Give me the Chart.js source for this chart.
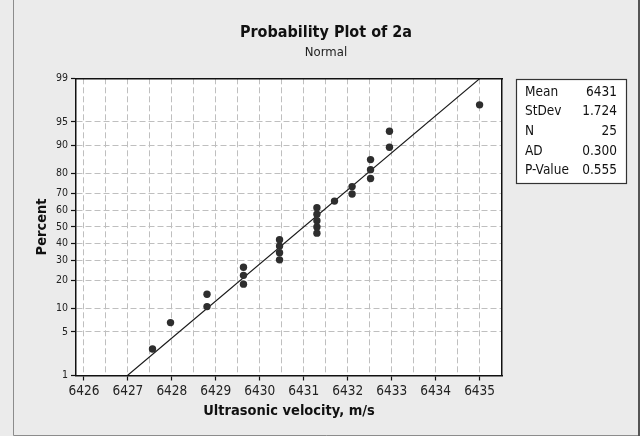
<!DOCTYPE html>
<html>
<head>
<meta charset="utf-8">
<script src="https://cdn.jsdelivr.net/npm/chart.js@4"></script>
<style>
html,body{margin:0;padding:0;background:#ebebeb;}
canvas{display:block;}
</style>
</head>
<body>
<canvas id="c" width="640" height="436"></canvas>
<script>
// ---- data ----
const velocity = [6427.56, 6427.97, 6428.80, 6428.80, 6429.63, 6429.63, 6429.63,
  6430.45, 6430.45, 6430.45, 6430.45, 6431.30, 6431.30, 6431.30, 6431.30, 6431.30,
  6431.70, 6432.10, 6432.10, 6432.52, 6432.52, 6432.52, 6432.95, 6432.95, 6435.00];
const percent = [2.8, 6.7, 10.6, 14.6, 18.5, 22.4, 26.4, 30.3, 34.3, 38.2, 42.1, 46.1,
  50.0, 53.9, 57.9, 61.8, 65.7, 69.7, 73.6, 77.6, 81.5, 85.4, 89.4, 93.3, 97.2];
const xTickValues = [6426, 6427, 6428, 6429, 6430, 6431, 6432, 6433, 6434, 6435];
const yTickPercents = [1, 5, 10, 20, 30, 40, 50, 60, 70, 80, 90, 95, 99];
const statLabels = ['Mean', 'StDev', 'N', 'AD', 'P-Value'];
const statValues = ['6431', '1.724', '25', '0.300', '0.555'];
const fitMean = 6431;
const fitStDev = 1.724;

const FONT = "'DejaVu Sans Condensed', 'Liberation Sans', Arial, sans-serif";

// inverse standard normal CDF (probability-scale transform)
function probit(p){
  const a=[-3.969683028665376e+01,2.209460984245205e+02,-2.759285104469687e+02,1.383577518672690e+02,-3.066479806614716e+01,2.506628277459239e+00];
  const b=[-5.447609879822406e+01,1.615858368580409e+02,-1.556989798598866e+02,6.680131188771972e+01,-1.328068155288572e+01];
  const c=[-7.784894002430293e-03,-3.223964580411365e-01,-2.400758277161838e+00,-2.549732539343734e+00,4.374664141464968e+00,2.938163982698783e+00];
  const d=[7.784695709041462e-03,3.224671290700398e-01,2.445134137142996e+00,3.754408661907416e+00];
  const pl=0.02425, ph=1-pl; let q,r;
  if(p<pl){q=Math.sqrt(-2*Math.log(p));return (((((c[0]*q+c[1])*q+c[2])*q+c[3])*q+c[4])*q+c[5])/((((d[0]*q+d[1])*q+d[2])*q+d[3])*q+1);}
  if(p<=ph){q=p-0.5;r=q*q;return (((((a[0]*r+a[1])*r+a[2])*r+a[3])*r+a[4])*r+a[5])*q/(((((b[0]*r+b[1])*r+b[2])*r+b[3])*r+b[4])*r+1);}
  q=Math.sqrt(-2*Math.log(1-p));return -(((((c[0]*q+c[1])*q+c[2])*q+c[3])*q+c[4])*q+c[5])/((((d[0]*q+d[1])*q+d[2])*q+d[3])*q+1);
}

const zMin = probit(yTickPercents[0]/100);
const zMax = probit(yTickPercents[yTickPercents.length-1]/100);

const points = velocity.map((v,i)=>({x:v, y:probit(percent[i]/100)}));
const fitLine = [zMin, zMax].map(z=>({x: fitMean + fitStDev*z, y: z}));

// x grid every half unit between labelled ticks
const xGrid = [];
xTickValues.forEach((v,i)=>{ xGrid.push(v); if(i<xTickValues.length-1) xGrid.push(v+0.5); });

const frame = {
  id:'frame',
  beforeDraw(chart){
    const {ctx, chartArea:a} = chart;
    ctx.save();
    ctx.fillStyle='#ebebeb'; ctx.fillRect(0,0,chart.width,chart.height);
    ctx.fillStyle='#ffffff'; ctx.fillRect(a.left,a.top,a.right-a.left,a.bottom-a.top);
    ctx.restore();
  },
  afterDraw(chart){
    const ctx = chart.ctx;
    ctx.save();
    // outer frame
    ctx.strokeStyle='#8c8c8c'; ctx.lineWidth=1;
    ctx.beginPath(); ctx.moveTo(13.5,0); ctx.lineTo(13.5,435.5); ctx.lineTo(640,435.5); ctx.stroke();
    ctx.strokeStyle='#555'; ctx.lineWidth=2;
    ctx.beginPath(); ctx.moveTo(639,0); ctx.lineTo(639,436); ctx.stroke();
    // stats box
    ctx.fillStyle='#ffffff'; ctx.fillRect(516,79,111,104);
    ctx.strokeStyle='#333'; ctx.lineWidth=1.2;
    ctx.strokeRect(516.5,79.5,110,104);
    ctx.fillStyle='#111';
    ctx.font = "13.5px " + FONT;
    ctx.textBaseline='middle';
    statLabels.forEach((t,i)=>{
      const y = 92 + i*19.7;
      ctx.textAlign='left'; ctx.fillText(t,525,y);
      ctx.textAlign='right'; ctx.fillText(statValues[i],617,y);
    });
    ctx.restore();
  }
};

new Chart(document.getElementById('c'), {
  type:'scatter',
  data:{datasets:[
    {type:'scatter', label:'2a', data:points, backgroundColor:'#2e2e2e', borderWidth:0, pointRadius:3.7, order:1},
    {type:'line', label:'Fit', data:fitLine, borderColor:'#1a1a1a', borderWidth:1.1, pointRadius:0, fill:false, order:2}
  ]},
  options:{
    responsive:false, animation:false,
    layout:{padding:{left:12,right:0,top:0,bottom:0}},
    plugins:{
      legend:{display:false}, tooltip:{enabled:false},
      title:{display:true, text:'Probability Plot of 2a', color:'#111',
        font:{family:FONT, size:16, weight:'bold', lineHeight:1.2}, padding:{top:22.8, bottom:3}},
      subtitle:{display:true, text:'Normal', color:'#222',
        font:{family:FONT, size:13, lineHeight:1.2}, padding:{top:0, bottom:0}}
    },
    scales:{
      x:{type:'linear', position:'bottom', min:6425.82, max:6435.51,
        afterBuildTicks(s){ s.ticks = xGrid.map(v=>({value:v})); },
        afterFit(s){ s.height = 60.5; },
        ticks:{autoSkip:false, maxRotation:0, padding:3, color:'#222',
          font:{family:FONT, size:13.5},
          callback:(v)=> Number.isInteger(v) ? String(v) : ''},
        grid:{color:'#bfbfbf', lineWidth:1, tickLength:5, tickWidth:1.2,
          tickColor:(ctx)=> (ctx.tick && Number.isInteger(ctx.tick.value)) ? '#111' : 'rgba(0,0,0,0)'},
        border:{display:true, color:'#111', width:1.5, dash:[6,3]},
        title:{display:true, text:'Ultrasonic velocity, m/s', color:'#111',
          font:{family:FONT, size:14.5, weight:'bold', lineHeight:1.2}, padding:{top:0,bottom:16}}
      },
      y:{type:'linear', position:'left', min:zMin, max:zMax,
        afterBuildTicks(s){ s.ticks = yTickPercents.map(p=>({value:probit(p/100)})); },
        afterFit(s){ s.width = 64; },
        ticks:{autoSkip:false, padding:3, color:'#222', font:{family:FONT, size:10.5},
          callback:(v,i)=> String(yTickPercents[i])},
        grid:{color:'#bfbfbf', lineWidth:1, tickLength:5, tickWidth:1.2, tickColor:'#111'},
        border:{display:true, color:'#111', width:1.5, dash:[6,3]},
        title:{display:true, text:'Percent', color:'#111',
          font:{family:FONT, size:14.5, weight:'bold', lineHeight:1.2}, padding:{top:21.5,bottom:0}}
      },
      x2:{type:'linear', position:'top', display:true,
        afterFit(s){ s.height = 17.7; },
        ticks:{display:false}, grid:{display:false, drawTicks:false},
        border:{display:true, color:'#111', width:1.5}
      },
      y2:{type:'linear', position:'right', display:true,
        afterFit(s){ s.width = 138; },
        ticks:{display:false}, grid:{display:false, drawTicks:false},
        border:{display:true, color:'#111', width:1.5}
      }
    }
  },
  plugins:[frame]
});
</script>
</body>
</html>
